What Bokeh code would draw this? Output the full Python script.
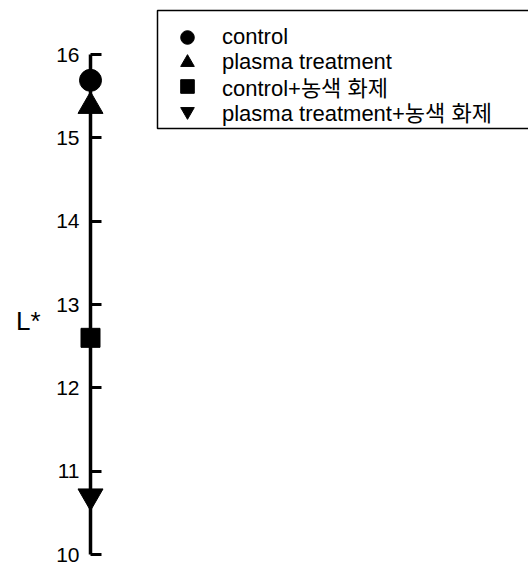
from bokeh.plotting import figure
from bokeh.models import (LinearAxis, FixedTicker, Range1d, Legend, LegendItem,
                          Label, BoxAnnotation)
from bokeh.embed import file_html
from bokeh.resources import INLINE

# ---- data ----
series = ["control", "plasma treatment", "control+농색 화제", "plasma treatment+농색 화제"]
l_values = [15.69, 15.38, 12.60, 10.70]
x_values = [0, 0, 0, 0]
y_ticks = [10, 11, 12, 13, 14, 15, 16]
y_label = "L*"

# ---- styles / layout ----
markers = ["circle", "triangle", "square", "inverted_triangle"]
marker_sizes = [22, 25, 19, 25]
FONT = "'Liberation Sans', 'Noto Sans CJK KR'"
W, H = 528, 568
Y0, Y1 = 9.832, 16.648          # y range (data)


def px_to_y(py):
    """canvas pixel row (from top) -> data y"""
    return Y1 - py * (Y1 - Y0) / H


p = figure(width=W, height=H, output_backend="svg", toolbar_location=None,
           x_range=Range1d(-90, W - 90), y_range=Range1d(Y0, Y1),
           x_axis_location=None, y_axis_location=None,
           min_border=0, outline_line_color=None,
           background_fill_color="white", border_fill_color="white")
p.grid.visible = False

ax = LinearAxis(fixed_location=0, bounds=(y_ticks[0], y_ticks[-1]),
                ticker=FixedTicker(ticks=y_ticks, minor_ticks=[]),
                axis_line_width=3.5, axis_line_color="black",
                major_tick_in=11, major_tick_out=0, major_tick_line_width=3,
                major_tick_line_color="black",
                minor_tick_in=0, minor_tick_out=0,
                major_label_standoff=11,
                major_label_text_font_size="21px",
                major_label_text_font="Liberation Sans",
                major_label_text_color="black")
p.add_layout(ax, "left")

renderers = []
for xv, yv, m, s in zip(x_values, l_values, markers, marker_sizes):
    r = p.scatter(x=[xv], y=[yv], marker=m, size=s,
                  fill_color="black", line_color="black")
    renderers.append(r)

lab = Label(x=-50, y=12.8, text=y_label, text_align="right", text_baseline="middle",
            text_font_size="26px", text_font="Liberation Sans", text_color="black")
p.add_layout(lab)

# legend frame (left 157px, top 10px, bottom 128px, right edge off-canvas)
frame = BoxAnnotation(left=157 - 90, right=W, top=px_to_y(10), bottom=px_to_y(128),
                      fill_color=None, line_color="black", line_width=1.5,
                      line_alpha=1)
p.add_layout(frame)

# one legend per row so rows keep an even pitch
ROW_H = 34
for i, (name, r) in enumerate(zip(series, renderers)):
    center = 37 + 24.5 * i
    lg = Legend(items=[LegendItem(label=name, renderers=[r])],
                location=(165, H - (center + ROW_H / 2)),
                padding=0, spacing=0, margin=0,
                glyph_height=ROW_H, glyph_width=44, label_height=ROW_H, label_width=20,
                label_standoff=13, label_text_font_size="22px", label_text_font=FONT,
                label_text_color="black",
                border_line_color=None, background_fill_alpha=0)
    p.add_layout(lg)

open("out.html", "w").write(file_html(p, INLINE))
